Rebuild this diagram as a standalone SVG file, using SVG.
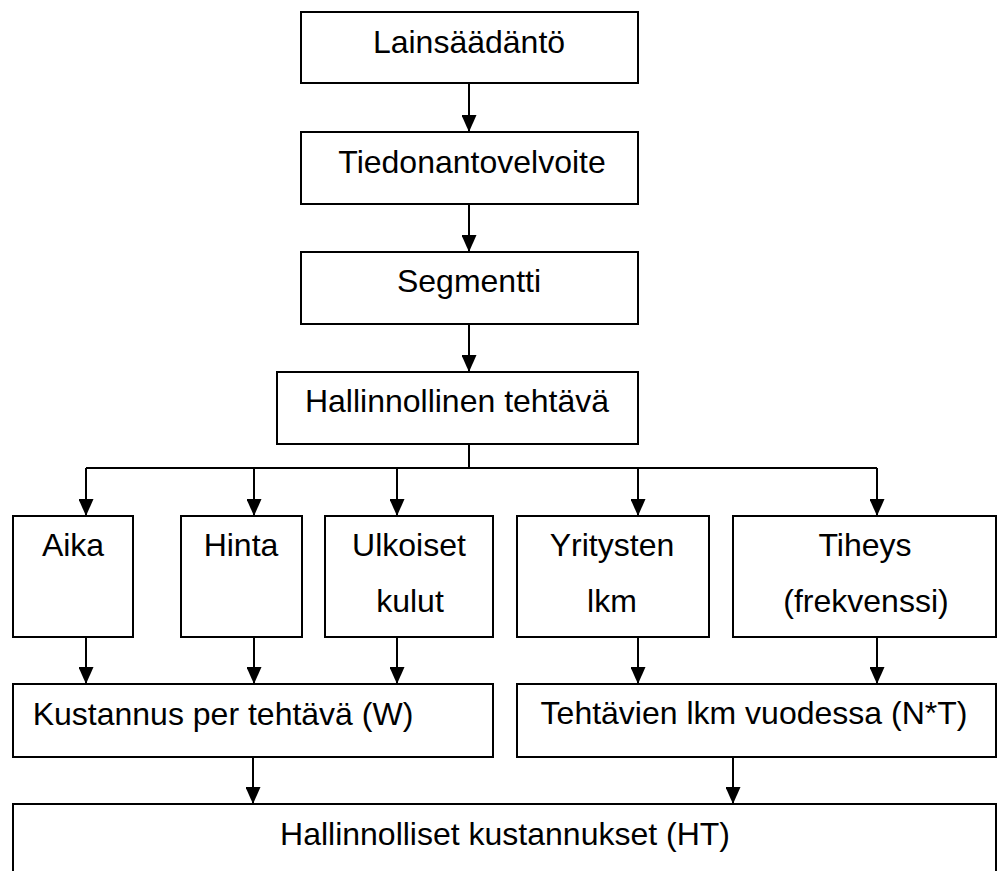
<svg xmlns="http://www.w3.org/2000/svg" width="997" height="871" viewBox="0 0 997 871">
<style>
.box{fill:#fff;stroke:#000;stroke-width:2}
.lbl{font-family:"Liberation Sans",Arial,sans-serif;font-size:32px;fill:#000;text-anchor:middle}
.ln{fill:none;stroke:#000;stroke-width:2}
.arr{fill:none;stroke:#000;stroke-width:2;marker-end:url(#ah)}
</style>
<defs>
<marker id="ah" markerUnits="userSpaceOnUse" markerWidth="17" markerHeight="15" viewBox="0 0 17 15" refX="17" refY="7.5" orient="auto">
<path d="M0,0 L17,7.5 L0,15 Z" fill="#000"/>
</marker>
</defs>
<rect width="997" height="871" fill="#fff"/>
<g id="connectors">
<path class="arr" d="M469,83 V132"/>
<path class="arr" d="M469,204 V252"/>
<path class="arr" d="M469,324 V372"/>
<path class="ln" d="M469,444 V468 M86,468 H877"/>
<path class="arr" d="M86,468 V516"/>
<path class="arr" d="M254,468 V516"/>
<path class="arr" d="M397,468 V516"/>
<path class="arr" d="M638,468 V516"/>
<path class="arr" d="M877,468 V516"/>
<path class="arr" d="M86,637 V684"/>
<path class="arr" d="M254,637 V684"/>
<path class="arr" d="M397,637 V684"/>
<path class="arr" d="M638,637 V684"/>
<path class="arr" d="M877,637 V684"/>
<path class="arr" d="M253,757 V804"/>
<path class="arr" d="M733,757 V804"/>
</g>
<g id="n-lainsaadanto">
<rect class="box" x="301" y="12" width="337" height="71"/>
<text class="lbl" x="469" y="53">Lainsäädäntö</text>
</g>
<g id="n-tiedonantovelvoite">
<rect class="box" x="301" y="132" width="337" height="72"/>
<text class="lbl" x="472" y="173">Tiedonantovelvoite</text>
</g>
<g id="n-segmentti">
<rect class="box" x="301" y="252" width="337" height="72"/>
<text class="lbl" x="469" y="292">Segmentti</text>
</g>
<g id="n-hallinnollinen-tehtava">
<rect class="box" x="277" y="372" width="361" height="72"/>
<text class="lbl" x="457" y="412">Hallinnollinen tehtävä</text>
</g>
<g id="n-aika">
<rect class="box" x="13" y="516" width="120" height="121"/>
<text class="lbl" x="73" y="556">Aika</text>
</g>
<g id="n-hinta">
<rect class="box" x="181" y="516" width="121" height="121"/>
<text class="lbl" x="241" y="556">Hinta</text>
</g>
<g id="n-ulkoiset">
<rect class="box" x="325" y="516" width="168" height="121"/>
<text class="lbl" x="409" y="556">Ulkoiset</text>
<text class="lbl" x="410" y="612">kulut</text>
</g>
<g id="n-yritysten">
<rect class="box" x="517" y="516" width="192" height="121"/>
<text class="lbl" x="612" y="556">Yritysten</text>
<text class="lbl" x="612" y="612">lkm</text>
</g>
<g id="n-tiheys">
<rect class="box" x="733" y="516" width="263" height="121"/>
<text class="lbl" x="865" y="556">Tiheys</text>
<text class="lbl" x="866" y="612">(frekvenssi)</text>
</g>
<g id="n-kustannus">
<rect class="box" x="13" y="684" width="480" height="73"/>
<text class="lbl" x="223" y="725">Kustannus per tehtävä (W)</text>
</g>
<g id="n-tehtavien">
<rect class="box" x="517" y="684" width="479" height="73"/>
<text class="lbl" x="754" y="724">Tehtävien lkm vuodessa (N*T)</text>
</g>
<g id="n-hallinnolliset-kustannukset">
<rect class="box" x="13" y="804" width="983" height="100"/>
<text class="lbl" x="505" y="845">Hallinnolliset kustannukset (HT)</text>
</g>
</svg>
